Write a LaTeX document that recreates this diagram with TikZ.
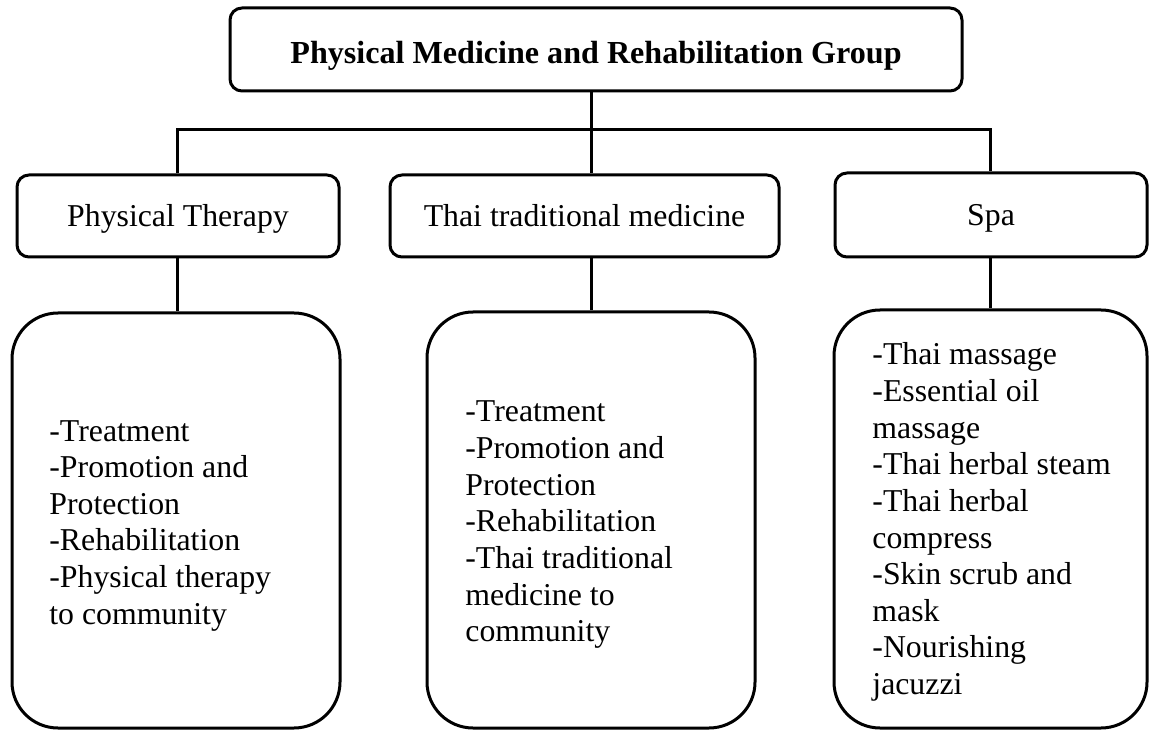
\documentclass[tikz,border=0pt]{standalone}
\usepackage{fontspec}
\setmainfont{Liberation Serif}
\begin{document}
\begin{tikzpicture}[x=0.5pt,y=-0.5pt,
  txt/.style={font=\fontsize{15.9}{18.3}\selectfont},
  box/.style={draw, line width=1.5pt, rounded corners=6pt, inner sep=0pt, txt},
  cat/.style={box, text height=13.5pt, text depth=2.5pt, minimum height=41pt},
  big/.style={draw, line width=1.5pt, rounded corners=23pt, inner sep=0pt},
  items/.style={anchor=base west, inner sep=0pt, txt},
  link/.style={line width=1.5pt}]
\useasboundingbox (0,0) rectangle (1149,731);
% title
\node[box, font=\bfseries\fontsize{16.05}{18.3}\selectfont, minimum width=366pt, minimum height=41.5pt, text height=17pt, text depth=2.5pt] (top) at (596,49.5) {Physical Medicine and Rehabilitation Group};
% categories
\node[cat, minimum width=161pt] (pt) at (178,216) {Physical Therapy};
\node[cat, minimum width=194.5pt] (ttm) at (584.5,216) {Thai traditional medicine};
\node[cat, minimum width=156pt, minimum height=42pt] (spa) at (991,215) {Spa};
% big boxes
\node[big, minimum width=164pt, minimum height=207.5pt] (ptb) at (176,520.5) {};
\node[big, minimum width=164pt, minimum height=208pt] (ttmb) at (591,520) {};
\node[big, minimum width=156.5pt, minimum height=209pt] (spab) at (990.5,519) {};
% item lists
\node[items] (ptt) at (49,441) {\begin{tabular}[t]{@{}l@{}}-Treatment\\-Promotion and\\Protection\\-Rehabilitation\\-Physical therapy\\to community\end{tabular}};
\node[items] (ttmt) at (465,422) {\begin{tabular}[t]{@{}l@{}}-Treatment\\-Promotion and\\Protection\\-Rehabilitation\\-Thai traditional\\medicine to\\community\end{tabular}};
\node[items] (spat) at (872,365) {\begin{tabular}[t]{@{}l@{}}-Thai massage\\-Essential oil\\massage\\-Thai herbal steam\\-Thai herbal\\compress\\-Skin scrub and\\mask\\-Nourishing\\jacuzzi\end{tabular}};
% connectors
\coordinate (bL) at (177,130);
\coordinate (bM) at (591,130);
\coordinate (bR) at (990,130);
\draw[link] (pt.north -| bL) -- (bL) -- (bR) -- (spa.north -| bR);
\draw[link] (top.south -| bM) -- (bM) -- (ttm.north -| bM);
\draw[link] (pt.south -| bL) -- (ptb.north -| bL);
\draw[link] (ttm.south -| bM) -- (ttmb.north -| bM);
\draw[link] (spa.south -| bR) -- (spab.north -| bR);
\end{tikzpicture}
\end{document}
